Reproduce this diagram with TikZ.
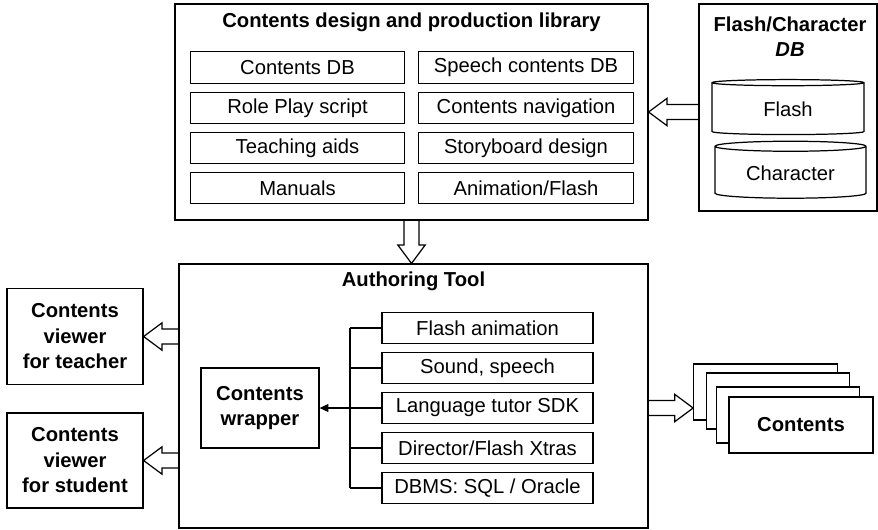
\documentclass[tikz,border=0pt]{standalone}
\usepackage{fontspec}
\setmainfont{Liberation Sans}
\usetikzlibrary{arrows.meta, calc, shapes.geometric}

\tikzset{
  txt/.style={font=\fontsize{11.5}{14.5}\selectfont},
  head/.style={font=\fontsize{11.5}{14.5}\selectfont\bfseries, align=center},
  frame/.style={draw, line width=0.7pt},
  item/.style={frame, txt, inner sep=1pt, minimum height=0.63cm},
  libitem/.style={item, minimum width=4.29cm},
  toolitem/.style={item, minimum width=4.22cm},
  viewer/.style={frame, head, minimum width=2.72cm, minimum height=1.92cm},
  dbcyl/.style={cylinder, shape border rotate=90, draw, txt, aspect=0.1,
    minimum height=1.1cm, minimum width=3.04cm},
  sheet/.style={frame, fill=white, minimum width=2.87cm, minimum height=1.12cm},
  hollow/.style={line width=0.7pt, to path={
    let \p1=(\tikztostart), \p2=(\tikztotarget),
        \n1={veclen(\x2-\x1,\y2-\y1)}, \n2={atan2(\y2-\y1,\x2-\x1)} in
    ($(\p1)+(\n2+90:4.3pt)$) -- ($(\p1)+(\n2:\n1-10.5pt)+(\n2+90:4.3pt)$)
    -- ($(\p1)+(\n2:\n1-10.5pt)+(\n2+90:7.8pt)$) -- (\p2)
    -- ($(\p1)+(\n2:\n1-10.5pt)+(\n2-90:7.8pt)$)
    -- ($(\p1)+(\n2:\n1-10.5pt)+(\n2-90:4.3pt)$) -- ($(\p1)+(\n2-90:4.3pt)$)}}
}

\begin{document}
\begin{tikzpicture}[x=0.02cm, y=-0.02cm, line width=0.7pt]
\useasboundingbox (0,0) rectangle (878,529);

% library
\node[frame, minimum width=9.46cm, minimum height=4.32cm] (lib) at (411.5,112) {};
\node[head] (libtitle) at (411.5,22) {Contents design and production library};
\node[libitem] (cdb) at (297.5,67.5) {Contents DB};
\node[libitem] (roleplay) at (297.5,108) {Role Play script};
\node[libitem] (aids) at (297.5,148) {Teaching aids};
\node[libitem] (manuals) at (297.5,188) {Manuals};
\node[libitem] (speechdb) at (526,67.5) {Speech contents DB};
\node[libitem] (navig) at (526,108) {Contents navigation};
\node[libitem] (story) at (526,148) {Storyboard design};
\node[libitem] (animflash) at (526,188) {Animation/Flash};

% flash / character db
\node[frame, minimum width=3.56cm, minimum height=4.14cm] (fcdb) at (788,107.5) {};
\node[head] (fctitle) at (790,36.5) {Flash/Character\\\textit{DB}};
\node[dbcyl] (flash) at (788,109.5) {Flash};
\node[dbcyl, minimum height=1.14cm, minimum width=3.02cm] (charac) at (790.5,173.5) {Character};

% authoring tool
\node[frame, minimum width=9.38cm, minimum height=5.28cm] (tool) at (413.5,396) {};
\node[head] (tooltitle) at (413.5,281) {Authoring Tool};
\node[frame, head, minimum width=2.36cm, minimum height=1.6cm] (wrapper) at (260,408) {Contents\\wrapper};
\node[toolitem] (flashani) at (487.5,328) {Flash animation};
\node[toolitem] (sound) at (487.5,368) {Sound, speech};
\node[toolitem] (tutor) at (487.5,408) {Language tutor SDK};
\node[toolitem] (xtras) at (487.5,448) {Director/Flash Xtras};
\node[toolitem] (dbms) at (487.5,488) {DBMS: SQL / Oracle};
\coordinate (bustop) at (350,328);
\coordinate (busbot) at (350,488);

% viewers
\node[viewer] (teacher) at (75,336.5) {Contents\\viewer\\for teacher};
\node[viewer, minimum height=1.9cm] (student) at (75,460.5) {Contents\\viewer\\for student};

% contents stack
\node[sheet] (sheet1) at (765.5,392) {};
\node[sheet] (sheet2) at (778,401) {};
\node[sheet] (sheet3) at (788,415) {};
\node[sheet, head, minimum width=2.88cm] (contents) at (801,425) {Contents};

% connectors
\draw (bustop) -- (busbot);
\draw (flashani.west) -- (flashani.west -| bustop);
\draw (sound.west) -- (sound.west -| bustop);
\draw (xtras.west) -- (xtras.west -| bustop);
\draw (dbms.west) -- (dbms.west -| bustop);
\draw[-{Triangle[length=5pt,width=4.5pt]}] (tutor.west) -- (wrapper.east);

\draw[hollow] (fcdb.west |- lib.east) to (lib.east);
\draw[hollow] (lib.south) to (lib.south |- tool.north);
\draw[hollow] (tool.west |- teacher.east) to (teacher.east);
\draw[hollow] (tool.west |- student.east) to (student.east);
\draw[hollow] (tool.east |- tutor.east) to (sheet1.west |- tutor.east);
\end{tikzpicture}
\end{document}
